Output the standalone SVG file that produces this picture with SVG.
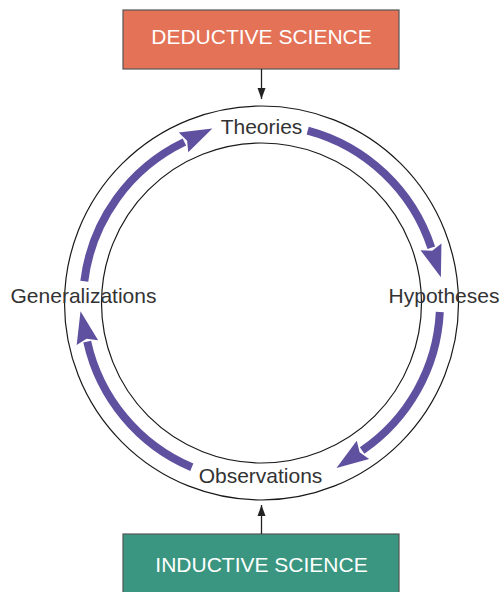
<svg xmlns="http://www.w3.org/2000/svg" width="501" height="592" viewBox="0 0 501 592">
<style>
.ring{fill:none;stroke:#1a1a1a;stroke-width:1.2}
.cyc{fill:none;stroke:#5F519F;stroke-width:8}
.lbl{font-family:"Liberation Sans",Arial,sans-serif;font-size:21px;fill:#333;text-anchor:middle}
.box{stroke:#555;stroke-width:1.2}
.boxt{font-family:"Liberation Sans",Arial,sans-serif;font-size:21px;fill:#fff;text-anchor:middle}
.conn{stroke:#222;stroke-width:1.3}
</style>
<defs>
<marker id="ph" markerUnits="userSpaceOnUse" viewBox="-2 -12 34 24" markerWidth="34" markerHeight="24" refX="0" refY="0" orient="auto">
<path d="M-1,-11 L31,0 L-1,11 L3,0 z" fill="#5F519F"/>
</marker>
<marker id="bh" markerUnits="userSpaceOnUse" viewBox="0 -5 11 10" markerWidth="11" markerHeight="10" refX="11" refY="0" orient="auto">
<path d="M0,-4 L11,0 L0,4 z" fill="#222"/>
</marker>
</defs>
<g id="ring">
<circle class="ring" cx="261.5" cy="303" r="197"/>
<circle class="ring" cx="261.5" cy="303" r="160"/>
</g>
<g id="deductive">
<rect class="box" x="123" y="10" width="276" height="59" fill="#E37257"/>
<text class="boxt" x="261.5" y="44">DEDUCTIVE SCIENCE</text>
</g>
<g id="inductive">
<rect class="box" x="123" y="534" width="276" height="70" fill="#3A9680"/>
<text class="boxt" x="261.5" y="572">INDUCTIVE SCIENCE</text>
</g>
<g id="theories"><text class="lbl" x="261.5" y="134">Theories</text></g>
<g id="hypotheses"><text class="lbl" x="444" y="303">Hypotheses</text></g>
<g id="observations"><text class="lbl" x="260.5" y="483">Observations</text></g>
<g id="generalizations"><text class="lbl" x="83.5" y="303">Generalizations</text></g>
<g id="connectors">
<line class="conn" x1="261.5" y1="69" x2="261.5" y2="99" marker-end="url(#bh)"/>
<line class="conn" x1="261.5" y1="534" x2="261.5" y2="505" marker-end="url(#bh)"/>
<path class="cyc" d="M307.7,130.6 A178.5,178.5 0 0 1 431.3,247.8" marker-end="url(#ph)"/>
<path class="cyc" d="M439.8,312 A178.5,178.5 0 0 1 362.1,450.5" marker-end="url(#ph)"/>
<path class="cyc" d="M191.8,467.3 A178.5,178.5 0 0 1 87.2,341.6" marker-end="url(#ph)"/>
<path class="cyc" d="M84.3,281.2 A178.5,178.5 0 0 1 184.4,142.0" marker-end="url(#ph)"/>
</g>
</svg>
